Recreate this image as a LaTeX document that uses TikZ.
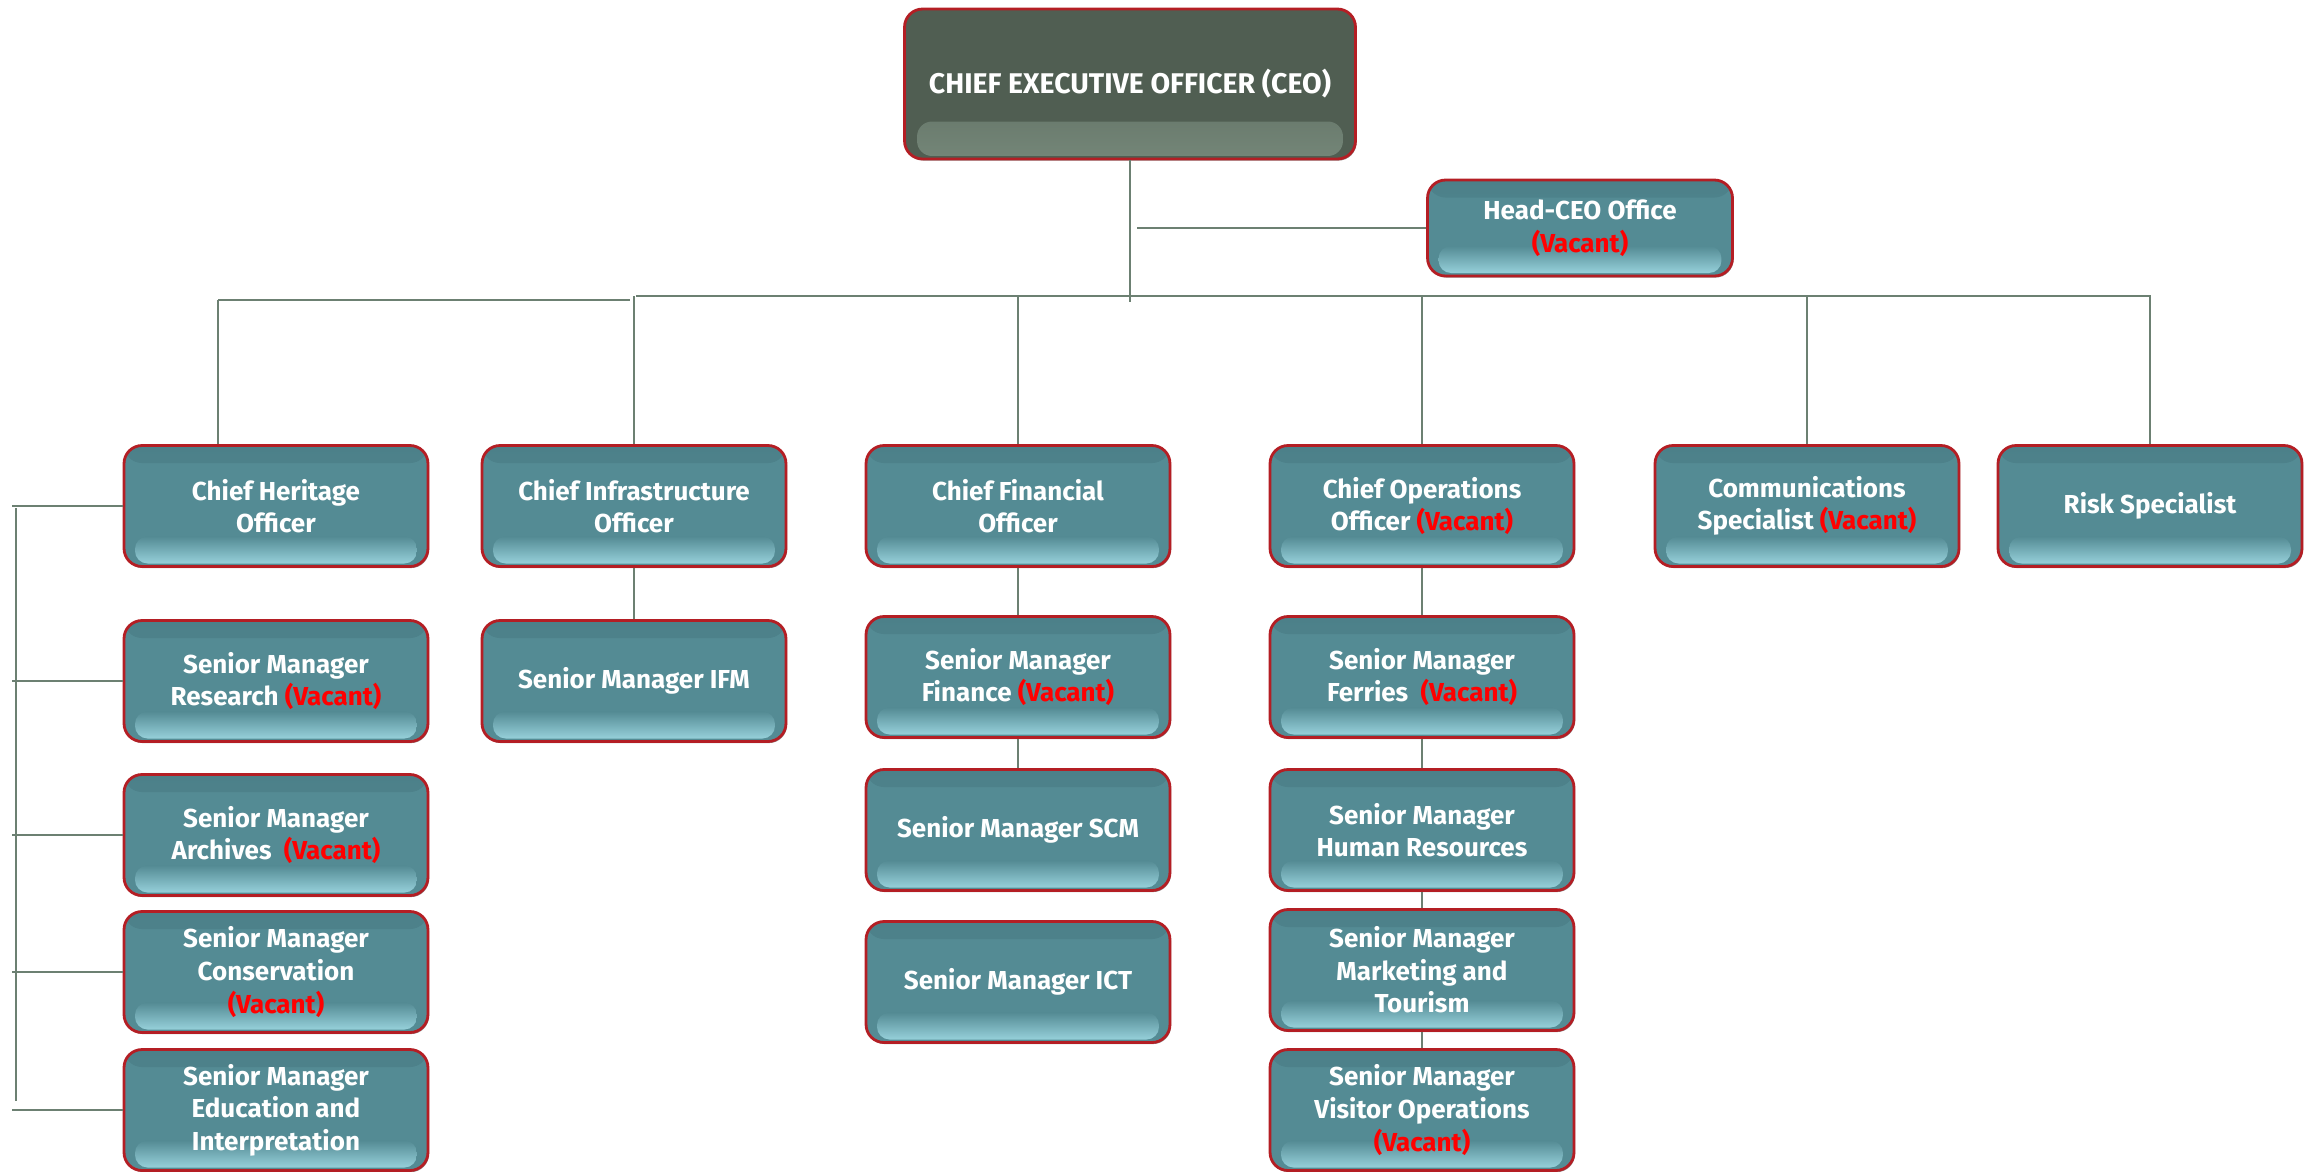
\documentclass[tikz,border=0pt]{standalone}
\usepackage{fontspec}
\setmainfont{Fira Sans}
\usepackage{xcolor}
\usepackage{tikz}
\usetikzlibrary{positioning,calc,shadows}
\definecolor{boxteal}{RGB}{84,139,148}
\definecolor{boxdark}{RGB}{76,128,137}
\definecolor{boxlight}{RGB}{150,208,218}
\definecolor{ceogreen}{RGB}{80,94,82}
\definecolor{ceolight}{RGB}{116,134,120}
\definecolor{boxedge}{RGB}{180,30,36}
\definecolor{linkgrey}{RGB}{108,128,114}
\definecolor{vacred}{RGB}{255,0,0}
\newcommand{\vac}{\textcolor{vacred}{(Vacant)}}

\begin{document}
\begin{tikzpicture}[x=0.02cm, y=-0.02cm,
  basebox/.style={rectangle, draw=boxedge, line width=1.6pt, rounded corners=0.36cm,
    text=white, align=center, inner sep=2pt, minimum width=6.08cm, minimum height=2.42cm,
    font=\fontsize{14.8}{18.5}\selectfont\bfseries,
    drop shadow={shadow xshift=0.6pt, shadow yshift=-0.9pt, fill=black!70, opacity=0.6}},
  post/.style={basebox, fill=boxteal,
    path picture={
      \shade[top color=boxdark, bottom color=boxteal]
        (path picture bounding box.north west) rectangle ($(path picture bounding box.north east)+(0,-0.35cm)$);
      \shade[top color=boxteal, bottom color=boxlight, rounded corners=0.25cm]
        ($(path picture bounding box.south west)+(0.22cm,0.06cm)$) rectangle ($(path picture bounding box.south east)+(-0.22cm,0.6cm)$);}},
  ceobox/.style={basebox, fill=ceogreen, minimum width=9.02cm, minimum height=3cm,
    font=\fontsize{16.2}{19}\selectfont\bfseries,
    path picture={\shade[top color=ceogreen, bottom color=ceolight, rounded corners=0.3cm]
      ($(path picture bounding box.south west)+(0.25cm,0.06cm)$) rectangle ($(path picture bounding box.south east)+(-0.25cm,0.75cm)$);}},
  link/.style={draw=linkgrey, line width=0.8pt}]

\useasboundingbox (0,0) rectangle (2315,1171);

% top
\node[ceobox] (ceo) at (1130,84) {CHIEF EXECUTIVE OFFICER (CEO)};
\node[post, minimum width=6.1cm, minimum height=1.92cm] (head) at (1580,228) {Head-CEO Office\\ \vac};

% chiefs
\node[post] (heritage) at (276,506) {Chief Heritage\\ Officer};
\node[post] (infra) at (634,506) {Chief Infrastructure\\ Officer};
\node[post] (cfo) at (1018,506) {Chief Financial\\ Officer};
\node[post] (coo) at (1422,506) {Chief Operations\\ Officer \vac};
\node[post] (comms) at (1807,506) {Communications\\ Specialist \vac};
\node[post] (risk) at (2150,506) {Risk Specialist};

% heritage column
\node[post] (research) at (276,681) {Senior Manager\\ Research \vac};
\node[post] (archives) at (276,835) {Senior Manager\\ Archives \ \vac};
\node[post] (conserv) at (276,972) {Senior Manager\\ Conservation\\ \vac};
\node[post] (edu) at (276,1110) {Senior Manager\\ Education and\\ Interpretation};

% infrastructure column
\node[post] (ifm) at (634,681) {Senior Manager IFM};

% finance column
\node[post] (smfin) at (1018,677) {Senior Manager\\ Finance \vac};
\node[post] (scm) at (1018,830) {Senior Manager SCM};
\node[post] (ict) at (1018,982) {Senior Manager ICT};

% operations column
\node[post] (ferries) at (1422,677) {Senior Manager\\ Ferries \ \vac};
\node[post] (hr) at (1422,830) {Senior Manager\\ Human Resources};
\node[post] (mkt) at (1422,970) {Senior Manager\\ Marketing and\\ Tourism};
\node[post] (visitor) at (1422,1110) {Senior Manager\\ Visitor Operations\\ \vac};

% connectors
\coordinate (hub) at (1130,302);
\coordinate (headtap) at (1137,228);
\coordinate (barL) at (636,296);
\coordinate (barR) at (2151,296);
\coordinate (lbarL) at (218,300);
\coordinate (lbarR) at (630,300);
\coordinate (brT) at (16,508);
\coordinate (brB) at (16,1101);
\coordinate (brX) at (12,0);

\draw[link] (ceo.south) -- (hub);
\draw[link] (headtap) -- (head.west);
\draw[link] (barL) -- (barR);
\draw[link] (lbarL) -- (lbarR);
\draw[link] (lbarL) -- (lbarL |- heritage.north);
\foreach \n in {infra,cfo,coo,comms,risk}
  \draw[link] (\n.north |- barL) -- (\n.north);

\draw[link] (infra.south) -- (ifm.north);
\draw[link] (cfo.south) -- (smfin.north);
\draw[link] (smfin.south) -- (scm.north);
\draw[link] (coo.south) -- (ferries.north);
\draw[link] (ferries.south) -- (hr.north);
\draw[link] (hr.south) -- (mkt.north);
\draw[link] (mkt.south) -- (visitor.north);

\draw[link] (brT) -- (brB);
\foreach \n in {heritage,research,archives,conserv,edu}
  \draw[link] (\n.west) -- (\n.west -| brX);
\end{tikzpicture}
\end{document}
